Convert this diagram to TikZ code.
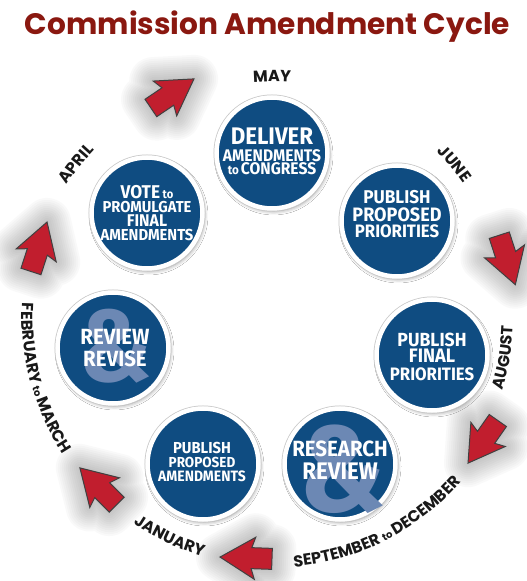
\documentclass[tikz,border=0pt]{standalone}
\usepackage{fontspec}
\setmainfont{Fira Sans}
\newfontfamily\circf{Fira Sans}[FakeStretch=0.93]
\newfontfamily\monf{Poppins}
\newfontfamily\titf{Poppins}
\usetikzlibrary{shadows.blur,decorations.text,calc}
\definecolor{cblue}{RGB}{15,76,129}
\definecolor{ampc}{RGB}{108,136,180}
\definecolor{ared}{RGB}{193,30,46}
\definecolor{agrey}{RGB}{64,64,64}
\definecolor{gshade}{RGB}{90,90,90}
\definecolor{tred}{RGB}{138,24,16}
\definecolor{mtext}{RGB}{25,25,25}
\newcommand{\mf}{\monf\bfseries\fontsize{16}{16}\selectfont}
\newcommand{\tf}{\monf\bfseries\fontsize{10}{10}\selectfont}
\newcommand{\fs}[1]{\fontsize{#1}{#1}\selectfont}
\newcommand{\arrowpath}{(27,0) -- (-8,21) -- (-4.5,10.5) -- (-25,10.5) -- (-25,-10.5) -- (-4.5,-10.5) -- (-8,-21) -- cycle}
\tikzset{
  stage/.style={circle, inner sep=0pt, minimum size=111pt, fill=cblue, draw=white, line width=4.5pt,
    blur shadow={shadow xshift=1.5pt, shadow yshift=-2.5pt, shadow blur radius=4pt, shadow opacity=45},
    preaction={draw=gray!45, line width=6pt}},
  ln/.style={text=white, inner sep=0pt, anchor=base, font=\circf\bfseries},
  amp/.style={text=ampc, inner sep=0pt, anchor=base, font=\circf\bfseries},
  glow/.style={draw=gshade, draw opacity=0.032, line join=round},
  arrowst/.style={fill=ared, draw=agrey, line width=1pt, line join=miter},
  redarrow/.pic={
    \foreach \w in {4,8,...,48} {\draw[glow, line width=\w pt] \arrowpath;}
    \filldraw[arrowst] \arrowpath;},
  month/.style={decorate, decoration={text along path, text align=center, text color=mtext, text={#1}}}
}
\begin{document}
\begin{tikzpicture}[x=1pt,y=1pt]
\useasboundingbox (0,0) rectangle (527,581);
\fill[white] (0,0) rectangle (527,581);
\coordinate (O) at (272,264);

% title
\node[font=\titf\bfseries\fs{29.6}, text=tred, anchor=base, inner sep=0pt] (title) at (267.5,546) {Commission Amendment Cycle};

% arrows
\pic (a1) at (171.6,487) [rotate=34] {redarrow};
\pic (a2) at (507,322) [rotate=-72] {redarrow};
\pic (a3) at (483.5,140) [rotate=-125] {redarrow};
\pic (a4) at (247,23) [rotate=178] {redarrow};
\pic (a5) at (99,94) [rotate=135] {redarrow};
\pic (a6) at (38.7,333.3) [rotate=72] {redarrow};

% stages
\node[stage] (deliver) at (272,428) {};
\node[stage] (vote) at (147,368) {};
\node[stage] (ppp) at (397,360) {};
\node[stage] (pfp) at (432,226) {};
\node[stage] (research) at (340,117) {};
\node[stage] (ppa) at (203,117) {};
\node[stage] (review) at (113,233) {};

% ampersands
\node[amp, font=\circf\bfseries\fs{102}] (amp1) at (116,199) {\&};
\node[amp, font=\circf\bfseries\fs{122}] (amp2) at (343,69) {\&};

% texts
\node[ln, font=\circf\bfseries\fs{24}] (d1) at (272,436) {DELIVER};
\node[ln, font=\circf\bfseries\fs{16.8}] (d2) at (272,419) {AMENDMENTS};
\node[ln, font=\circf\bfseries\fs{16.8}] (d3) at (272,406.5) {{\fs{12.5}to\,}CONGRESS};

\node[ln, font=\circf\bfseries\fs{18.5}] (v1) at (147,382) {VOTE{\fs{12}\ to}};
\node[ln, font=\circf\bfseries\fs{15.8}] (v2) at (147,368) {PROMULGATE};
\node[ln, font=\circf\bfseries\fs{17}] (v3) at (147,354) {FINAL};
\node[ln, font=\circf\bfseries\fs{15.9}] (v4) at (147,340) {AMENDMENTS};

\node[ln, font=\circf\bfseries\fs{18.5}] (p1) at (397,377) {PUBLISH};
\node[ln, font=\circf\bfseries\fs{19.4}] (p2) at (397,359) {PROPOSED};
\node[ln, font=\circf\bfseries\fs{18}] (p3) at (397,343) {PRIORITIES};

\node[ln, font=\circf\bfseries\fs{19}] (f1) at (432,234) {PUBLISH};
\node[ln, font=\circf\bfseries\fs{19.5}] (f2) at (432,218) {FINAL};
\node[ln, font=\circf\bfseries\fs{18}] (f3) at (432,200) {PRIORITIES};

\node[ln, font=\circf\bfseries\fs{22}] (r1) at (340,124) {RESEARCH};
\node[ln, font=\circf\bfseries\fs{24}] (r2) at (340,101) {REVIEW};

\node[ln, font=\circf\bfseries\fs{15.9}] (a11) at (202,127) {PUBLISH};
\node[ln, font=\circf\bfseries\fs{14.5}] (a12) at (202,113) {PROPOSED};
\node[ln, font=\circf\bfseries\fs{15}] (a13) at (202,99) {AMENDMENTS};

\node[ln, font=\circf\bfseries\fs{22}] (w1) at (115,236) {REVIEW};
\node[ln, font=\circf\bfseries\fs{22}] (w2) at (115,214) {REVISE};

% month labels
\path[month={|\mf|MAY}] ($(O)+(130:235.5)$) arc[start angle=130, end angle=50, radius=235.5];
\path[month={|\mf|JUNE}] ($(O)+(80:233.5)$) arc[start angle=80, end angle=0, radius=233.5];
\path[month={|\mf|APRIL}] ($(O)+(182:244)$) arc[start angle=182, end angle=102, radius=244];
\path[month={|\mf|AUGUST}] ($(O)+(-50:241.5)$) arc[start angle=-50, end angle=30, radius=241.5];
\path[month={|\mf|SEPTEMBER |\tf|to |\mf|DECEMBER}] ($(O)+(-110:251)$) arc[start angle=-110, end angle=-16, radius=251];
\path[month={|\mf|JANUARY}] ($(O)+(205:249)$) arc[start angle=205, end angle=285, radius=249];
\path[month={|\mf|FEBRUARY |\tf|to |\mf|MARCH}] ($(O)+(150:250)$) arc[start angle=150, end angle=240, radius=250];
\end{tikzpicture}
\end{document}
